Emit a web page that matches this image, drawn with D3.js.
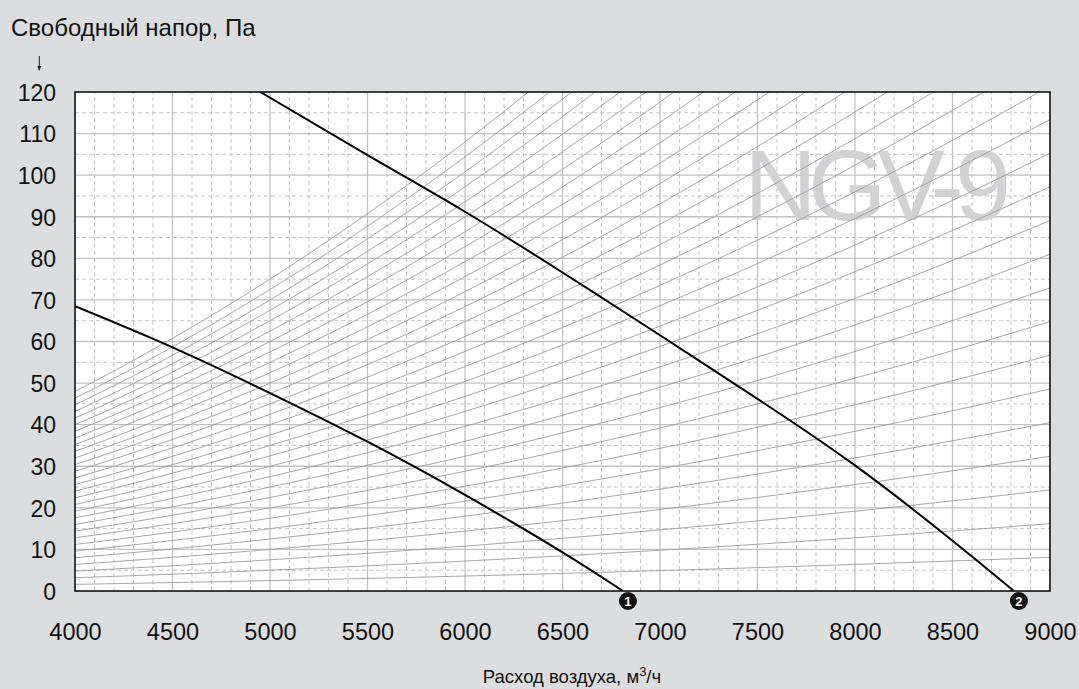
<!DOCTYPE html>
<html>
<head>
<meta charset="utf-8">
<script src="https://cdn.jsdelivr.net/npm/d3@7"></script>
<style>
  html, body { margin: 0; padding: 0; background: #dcdddf; }
  svg { display: block; font-family: "Liberation Sans", Arial, Helvetica, sans-serif; }
</style>
</head>
<body>
<svg id="chart" width="1079" height="689"></svg>
<script>
// Fan performance curves (air flow m³/h, free pressure Pa)
const fan1Flow     = [4000, 4500, 5000, 5500, 6000, 6500, 6810];
const fan1Pressure = [68.5, 58.6, 47.6, 35.9, 23.1, 9.3, 0];
const fan2Flow     = [4950, 5500, 6000, 6500, 7000, 7500, 8000, 8500, 8815];
const fan2Pressure = [120, 104.8, 91.2, 76.6, 61.5, 46.2, 30.2, 12.1, 0];

// System resistance coefficients, Pa per (1000 m³/h)²
const systemK = [0.1, 0.2, 0.3, 0.4, 0.5, 0.6, 0.7, 0.8, 0.9, 1.0,
                 1.1, 1.2, 1.3, 1.4, 1.5, 1.6, 1.7, 1.8, 1.9, 2.0,
                 2.1, 2.2, 2.3, 2.4, 2.5, 2.6, 2.7, 2.8, 2.9, 3.0];

const xTicks = [4000, 4500, 5000, 5500, 6000, 6500, 7000, 7500, 8000, 8500, 9000];
const yTicks = [0, 10, 20, 30, 40, 50, 60, 70, 80, 90, 100, 110, 120];
const markerLabels = ["1", "2"];

const yTitle = "Свободный напор, Па";
const xTitle = "Расход воздуха, м";
const xTitleUnit = "/ч";
const watermark = "NGV-9";

const svg = d3.select("#chart");
const x = d3.scaleLinear().domain([4000, 9000]).range([75, 1050]);
const y = d3.scaleLinear().domain([0, 120]).range([591, 92]);

// Plot background
svg.append("rect")
  .attr("x", x(4000)).attr("y", y(120))
  .attr("width", x(9000) - x(4000)).attr("height", y(0) - y(120))
  .attr("fill", "#ffffff");

svg.append("clipPath").attr("id", "plotClip")
  .append("rect")
  .attr("x", x(4000)).attr("y", y(120))
  .attr("width", x(9000) - x(4000)).attr("height", y(0) - y(120));

// Minor dashed grid
const minorX = d3.range(4100, 9000, 100).filter(v => v % 500 !== 0);
const minorY = d3.range(5, 120, 10);
const grid = svg.append("g");
grid.append("g").selectAll("line").data(minorX).join("line")
  .attr("x1", d => x(d)).attr("x2", d => x(d))
  .attr("y1", y(0)).attr("y2", y(120))
  .attr("stroke", "#c4c4c4").attr("stroke-width", 1).attr("stroke-dasharray", "4,3");
grid.append("g").selectAll("line").data(minorY).join("line")
  .attr("y1", d => y(d)).attr("y2", d => y(d))
  .attr("x1", x(4000)).attr("x2", x(9000))
  .attr("stroke", "#c4c4c4").attr("stroke-width", 1).attr("stroke-dasharray", "4,3");

// Major solid grid
grid.append("g").selectAll("line").data(xTicks.slice(1, -1)).join("line")
  .attr("x1", d => x(d)).attr("x2", d => x(d))
  .attr("y1", y(0)).attr("y2", y(120))
  .attr("stroke", "#c2c2c2").attr("stroke-width", 1.3);
grid.append("g").selectAll("line").data(yTicks.slice(1, -1)).join("line")
  .attr("y1", d => y(d)).attr("y2", d => y(d))
  .attr("x1", x(4000)).attr("x2", x(9000))
  .attr("stroke", "#c2c2c2").attr("stroke-width", 1.3);

// Model watermark
svg.append("text")
  .attr("x", 744).attr("y", 220)
  .attr("font-size", 101)
  .attr("letter-spacing", -9)
  .attr("fill", "#d2d2d4")
  .text(watermark);

// System resistance curves P = k·(Q/1000)²
const flowSamples = d3.range(4000, 9001, 50);
const sysLine = d3.line().x(d => x(d[0])).y(d => y(d[1]));
svg.append("g").attr("clip-path", "url(#plotClip)")
  .selectAll("path").data(systemK).join("path")
  .attr("d", k => sysLine(flowSamples.map(q => [q, k * (q / 1000) ** 2])))
  .attr("fill", "none").attr("stroke", "#9c9c9c").attr("stroke-width", 0.9);

// Fan curves
const fanLine = d3.line().x(d => x(d[0])).y(d => y(d[1])).curve(d3.curveNatural);
const fans = [
  d3.zip(fan1Flow, fan1Pressure),
  d3.zip(fan2Flow, fan2Pressure)
];
svg.append("g").attr("clip-path", "url(#plotClip)")
  .selectAll("path").data(fans).join("path")
  .attr("d", d => fanLine(d))
  .attr("fill", "none").attr("stroke", "#000").attr("stroke-width", 2);

// Frame
svg.append("rect")
  .attr("x", x(4000)).attr("y", y(120))
  .attr("width", x(9000) - x(4000)).attr("height", y(0) - y(120))
  .attr("fill", "none").attr("stroke", "#111").attr("stroke-width", 1.6);

// Axes labels
const yAxis = svg.append("g")
  .attr("transform", `translate(${x(4000) - 19},0)`)
  .call(d3.axisLeft(y).tickValues(yTicks).tickSize(0).tickPadding(0));
yAxis.select(".domain").remove();
yAxis.selectAll("text")
  .attr("font-size", 23).attr("font-family", "Liberation Sans, Arial, sans-serif")
  .attr("fill", "#111").attr("dy", "0.36em");

const xAxis = svg.append("g")
  .attr("transform", `translate(0,${y(0) + 41})`)
  .call(d3.axisBottom(x).tickValues(xTicks).tickSize(0).tickPadding(0).tickFormat(d3.format("d")));
xAxis.select(".domain").remove();
xAxis.selectAll("text")
  .attr("font-size", 23.5).attr("font-family", "Liberation Sans, Arial, sans-serif")
  .attr("fill", "#111").attr("dy", "0.36em");

// Curve end markers
const ends = [fans[0][fans[0].length - 1], fans[1][fans[1].length - 1]];
const mk = svg.append("g").selectAll("g").data(ends).join("g")
  .attr("transform", d => `translate(${x(d[0]) + 5},${y(d[1]) + 10})`);
mk.append("circle").attr("r", 9).attr("fill", "#111");
mk.append("text")
  .attr("text-anchor", "middle").attr("dy", "0.36em")
  .attr("font-size", 13).attr("font-weight", "bold").attr("fill", "#fff")
  .text((d, i) => markerLabels[i]);

// Titles
svg.append("text")
  .attr("x", 11).attr("y", 36)
  .attr("font-size", 24).attr("fill", "#111")
  .text(yTitle);

svg.append("path")
  .attr("d", "M39.3,56 L39.3,70")
  .attr("stroke", "#222").attr("stroke-width", 1);
svg.append("path")
  .attr("d", "M37.3,66 L39.3,71 L41.3,66 Z")
  .attr("fill", "#222");

const xt = svg.append("text")
  .attr("x", 572).attr("y", 683)
  .attr("text-anchor", "middle")
  .attr("font-size", 18.5).attr("fill", "#111");
xt.append("tspan").text(xTitle);
xt.append("tspan").attr("font-size", 13).attr("dy", -7).text("3");
xt.append("tspan").attr("dy", 7).text(xTitleUnit);
</script>
</body>
</html>
